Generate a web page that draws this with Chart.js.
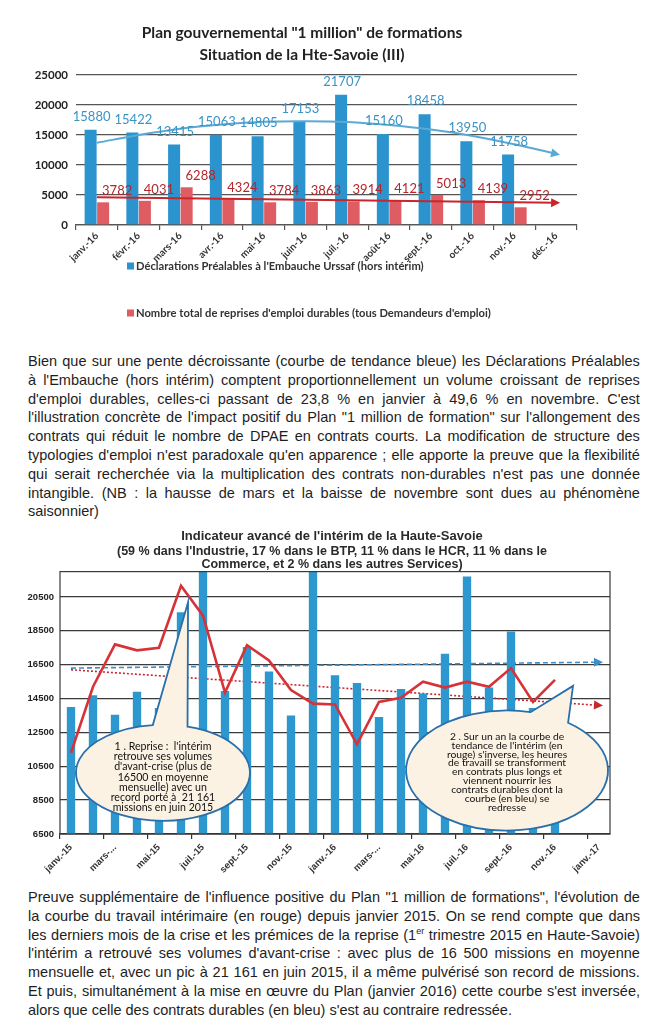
<!DOCTYPE html>
<html lang="fr">
<head>
<meta charset="utf-8">
<script src="https://cdn.jsdelivr.net/npm/chart.js@4.4.1/dist/chart.umd.min.js"></script>
<style>
  body { margin: 0; background: #fff; width: 668px; height: 1024px; position: relative; overflow: hidden;
         font-family: "Liberation Sans", Arial, sans-serif; color: #1e1e1e; }
  #box1 { position: absolute; left: 10px; top: 20px; width: 585px; height: 315px; }
  #box2 { position: absolute; left: 10px; top: 527px; width: 644px; height: 352px; }
  .para { position: absolute; left: 28px; width: 612px; font-size: 14.5px; line-height: 18.8px; }
  .para .line { display: flex; justify-content: space-between; white-space: nowrap; }
  .para .line.last { justify-content: flex-start; }
  .para sup { font-size: 9px; line-height: 0; }
</style>
</head>
<body>
<div id="box1"><canvas id="dpae"></canvas></div>
<div class="para" id="para1" style="top:352px"></div>
<div id="box2"><canvas id="interim"></canvas></div>
<div class="para" id="para2" style="top:888px"></div>

<script>
// ---- graphique 1 : DPAE / reprises d'emploi durables (2016)
const months2016 = ['janv.-16', 'févr.-16', 'mars-16', 'avr.-16', 'mai-16', 'juin-16',
                    'juil.-16', 'août-16', 'sept.-16', 'oct.-16', 'nov.-16', 'déc.-16'];
const dpaeValues = [15880, 15422, 13415, 15063, 14805, 17153, 21707, 15160, 18458, 13950, 11758, null];
const reprisesValues = [3782, 4031, 6288, 4324, 3784, 3863, 3914, 4121, 5013, 4139, 2952, null];
const dpaeTrend = [13700, 15000, 16050, 16750, 17200, 17300, 17150, 16650, 15900, 14850, 13450, 11850];
const reprisesTrend = [4620, null, null, null, null, null, null, null, null, null, null, 3700];

// ---- graphique 2 : indicateur avancé de l'intérim (janv. 2015 - janv. 2017)
const months1517 = ['janv.-15', 'févr.-15', 'mars-15', 'avr.-15', 'mai-15', 'juin-15', 'juil.-15', 'août-15',
                    'sept.-15', 'oct.-15', 'nov.-15', 'déc.-15', 'janv.-16', 'févr.-16', 'mars-16', 'avr.-16',
                    'mai-16', 'juin-16', 'juil.-16', 'août-16', 'sept.-16', 'oct.-16', 'nov.-16', 'déc.-16', 'janv.-17'];
const interimTickLabels = ['janv.-15', '', 'mars-...', '', 'mai-15', '', 'juil.-15', '', 'sept.-15', '', 'nov.-15', '',
                           'janv.-16', '', 'mars-...', '', 'mai-16', '', 'juil.-16', '', 'sept.-16', '', 'nov.-16', '', 'janv.-17'];
const interimYTicks = [6500, 8500, 10500, 12500, 14500, 16500, 18500, 20500];
const durablesValues = [14000, 14700, 13550, 14900, 13950, 19600, 22600, 14950, 17550, 16100, 13500, 22400,
                        15880, 15422, 13415, 15063, 14805, 17153, 21707, 15160, 18458, 13950, 11758, null, null];
const interimValues = [11300, 15200, 17700, 17350, 17500, 21161, 19400, 14850, 17650, 16750, 15000, 14200,
                       14150, 11800, 14300, 14550, 15500, 15150, 15500, 15200, 16300, 14300, 15600, null, null];
const durablesTrend = [16300, null, null, null, null, null, null, null, null, null, null, null,
                       null, null, null, null, null, null, null, null, null, null, null, null, 16650];
const interimTrend = [16200, null, null, null, null, null, null, null, null, null, null, null,
                      null, null, null, null, null, null, null, null, null, null, null, null, 14100];

const callouts = [
  { x: 4.18, y: 10120, rx: 87, ry: 48, tipX: 5.32, tipY: 20190, gap: [-96.7, -73.6],
    font: '10.6px Lato', lineHeight: 10.3, textTop: -26.5,
    lines: ["1 . Reprise :  l'intérim", 'retrouve ses volumes', "d'avant-crise (plus de", '16500 en moyenne',
            'mensuelle) avec un', 'record porté à  21 161', 'missions en juin 2015'] },
  { x: 19.82, y: 10250, rx: 101, ry: 60, tipX: 22.82, tipY: 15250, gap: [-76.5, -52.8],
    font: '10.3px Lato', lineHeight: 8.85, textTop: -34,
    lines: ['2 . Sur un an la courbe de', "tendance de l'intérim (en", "rouge) s'inverse, les heures",
            'de travaill se transforment', 'en contrats plus longs et', 'viennent nourrir les',
            'contrats durables dont la', 'courbe (en bleu) se', 'redresse'] }
];

const para1Lines = [
  'Bien que sur une pente décroissante (courbe de tendance bleue) les Déclarations Préalables',
  "à l'Embauche (hors intérim) comptent proportionnellement un volume croissant de reprises",
  "d'emploi durables, celles-ci passant de 23,8 % en janvier à 49,6 % en novembre. C'est",
  "l'illustration concrète de l'impact positif du Plan \"1 million de formation\" sur l'allongement des",
  'contrats qui réduit le nombre de DPAE en contrats courts. La modification de structure des',
  "typologies d'emploi  n'est paradoxale qu'en apparence ; elle apporte la preuve que la flexibilité",
  "qui serait recherchée via la multiplication des contrats non-durables n'est pas une donnée",
  'intangible. (NB : la hausse de mars et la baisse de novembre sont dues au phénomène',
  'saisonnier)'
];
const para2Lines = [
  "Preuve supplémentaire de l'influence positive du Plan \"1 million de formations\", l'évolution de",
  'la courbe du travail intérimaire (en rouge) depuis janvier 2015. On se rend compte que dans',
  'les derniers mois de la crise et les prémices de la reprise (1<sup>er</sup> trimestre 2015 en Haute-Savoie)',
  "l'intérim a retrouvé ses volumes d'avant-crise : avec plus de 16 500 missions en moyenne",
  'mensuelle et, avec un pic à 21 161 en juin 2015, il a même pulvérisé son record de missions.',
  "Et puis, simultanément à la mise en œuvre du Plan (janvier 2016) cette courbe s'est inversée,",
  "alors que celle des contrats durables (en bleu) s'est au contraire redressée."
];

function fillPara(el, lines) {
  lines.forEach((txt, i) => {
    const div = document.createElement('div');
    div.className = 'line' + (i === lines.length - 1 ? ' last' : '');
    if (i === lines.length - 1) div.innerHTML = txt;
    else div.innerHTML = txt.split(/\s+/).map(w => '<span>' + w + '</span>').join('');
    el.appendChild(div);
  });
}
fillPara(document.getElementById('para1'), para1Lines);
fillPara(document.getElementById('para2'), para2Lines);

Chart.defaults.font.family = 'Lato';
Chart.defaults.animation = false;
Chart.defaults.plugins.tooltip.enabled = false;
Chart.defaults.plugins.legend.display = false;

// pointe de flèche au bout des courbes de tendance
const arrowHeads = {
  id: 'arrowHeads',
  afterDatasetsDraw(chart) {
    const ctx = chart.ctx;
    chart.data.datasets.forEach((ds, i) => {
      if (!ds.arrow) return;
      const pts = chart.getDatasetMeta(i).data.filter((p, j) => ds.data[j] != null);
      const a = pts[pts.length - 2], b = pts[pts.length - 1];
      const ang = Math.atan2(b.y - a.y, b.x - a.x);
      const len = 9, half = 4.5;
      ctx.save();
      ctx.translate(b.x, b.y);
      ctx.rotate(ang);
      ctx.beginPath();
      ctx.moveTo(4, 0);
      ctx.lineTo(4 - len, -half);
      ctx.lineTo(4 - len, half);
      ctx.closePath();
      ctx.fillStyle = ds.borderColor;
      ctx.fill();
      ctx.restore();
    });
  }
};

// valeurs au-dessus des barres
const valueLabels = {
  id: 'valueLabels',
  afterDatasetsDraw(chart) {
    const ctx = chart.ctx;
    chart.data.datasets.forEach((ds, i) => {
      if (!ds.labelColor) return;
      chart.getDatasetMeta(i).data.forEach((bar, j) => {
        if (ds.data[j] == null) return;
        ctx.save();
        ctx.font = '13px Lato';
        ctx.fillStyle = ds.labelColor;
        ctx.textAlign = 'center';
        ctx.textBaseline = 'middle';
        ctx.fillText(String(ds.data[j]), bar.x + ds.labelShift, bar.y - ds.labelLift);
        ctx.restore();
      });
    });
  }
};

// légende en liste sous le graphique
const listLegend = {
  id: 'listLegend',
  afterDraw(chart) {
    const ctx = chart.ctx;
    const area = chart.chartArea;
    chart.data.datasets.forEach(ds => {
      if (ds.legendRow == null) return;
      const y = area.bottom + 41 + ds.legendRow * 47;
      ctx.save();
      ctx.fillStyle = ds.backgroundColor;
      ctx.fillRect(117, y - 3.5, 7, 7);
      ctx.font = 'bold 11.2px Lato';
      ctx.fillStyle = '#333';
      ctx.textBaseline = 'middle';
      ctx.fillText(ds.label, 126, y);
      ctx.restore();
    });
  }
};

// cadre + bulles de commentaire
const frameAndCallouts = {
  id: 'frameAndCallouts',
  afterDatasetsDraw(chart) {
    const ctx = chart.ctx;
    const a = chart.chartArea;
    const xs = chart.scales.x, ys = chart.scales.y;
    ctx.save();
    ctx.strokeStyle = '#3a3a3a';
    ctx.lineWidth = 1.2;
    ctx.strokeRect(a.left, a.top, a.right - a.left, a.bottom - a.top);
    callouts.forEach(c => {
      const cx = xs.getPixelForValue(c.x), cy = ys.getPixelForValue(c.y);
      const tx = xs.getPixelForValue(c.tipX), ty = ys.getPixelForValue(c.tipY);
      const g1 = c.gap[0] * Math.PI / 180, g2 = c.gap[1] * Math.PI / 180;
      ctx.beginPath();
      ctx.ellipse(cx, cy, c.rx, c.ry, 0, g2, g1 + 2 * Math.PI, false);
      ctx.lineTo(tx, ty);
      ctx.closePath();
      ctx.fillStyle = '#FCF2E4';
      ctx.fill();
      ctx.strokeStyle = '#2A6FAA';
      ctx.lineWidth = 1.8;
      ctx.stroke();
      ctx.fillStyle = '#111';
      ctx.font = c.font;
      ctx.textAlign = 'center';
      ctx.textBaseline = 'middle';
      c.lines.forEach((l, k) => ctx.fillText(l, cx, cy + c.textTop + k * c.lineHeight));
    });
    ctx.restore();
  }
};

new Chart(document.getElementById('dpae'), {
  type: 'bar',
  data: {
    labels: months2016,
    datasets: [
      { type: 'line', data: dpaeTrend, borderColor: '#5AA9D6', borderWidth: 2, pointRadius: 0,
        tension: 0.4, arrow: true, order: 0 },
      { type: 'line', data: reprisesTrend, borderColor: '#C8262C', borderWidth: 2, pointRadius: 0,
        spanGaps: true, arrow: true, order: 0 },
      { label: "Déclarations Préalables à l'Embauche Urssaf (hors intérim)", data: dpaeValues,
        backgroundColor: '#2B93CD', labelColor: '#3A93C4', labelShift: 1, labelLift: 13, legendRow: 0, order: 1 },
      { label: "Nombre total de reprises d'emploi durables (tous Demandeurs d'emploi)", data: reprisesValues,
        backgroundColor: '#E05C63', labelColor: '#B3262C', labelShift: 14, labelLift: 11.5, legendRow: 1, order: 1 }
    ]
  },
  options: {
    responsive: true,
    maintainAspectRatio: false,
    layout: { padding: { left: 17, right: 18, top: 0, bottom: 65 } },
    datasets: { bar: { categoryPercentage: 0.6, barPercentage: 0.96 } },
    plugins: {
      title: {
        display: true,
        text: ['Plan gouvernemental "1 million" de formations', 'Situation de la Hte-Savoie (III)'],
        color: '#222',
        font: { size: 15.5, weight: 'bold', lineHeight: 1.42 },
        padding: { top: 2, bottom: 9 }
      }
    },
    scales: {
      x: {
        offset: true,
        grid: { offset: true, drawOnChartArea: false, tickLength: 5, color: '#555', lineWidth: 1.2 },
        border: { color: '#555', width: 1.3 },
        ticks: { minRotation: 45, maxRotation: 45, autoSkip: false, color: '#333', padding: 0,
                 font: { size: 10, weight: 'bold' } },
        afterFit: s => { s.height = 45; }
      },
      y: {
        min: 0, max: 25000,
        ticks: { stepSize: 5000, color: '#222', padding: 8, font: { size: 11.5, weight: 'bold' },
                 callback: v => String(v) },
        grid: { color: '#555', lineWidth: 1.3, drawTicks: false },
        border: { display: false },
        afterFit: s => { s.width = 49; }
      }
    }
  },
  plugins: [arrowHeads, valueLabels, listLegend]
});

new Chart(document.getElementById('interim'), {
  type: 'bar',
  data: {
    labels: months1517,
    datasets: [
      { type: 'line', data: interimValues, borderColor: '#D63237', borderWidth: 2.6, pointRadius: 0, order: 0 },
      { type: 'bar', data: durablesValues, backgroundColor: '#2D97CF', barPercentage: 0.38,
        categoryPercentage: 1, order: 1 },
      { type: 'line', data: durablesTrend, borderColor: '#3D8FCB', borderWidth: 1.6, borderDash: [5, 3],
        spanGaps: true, arrow: true, pointRadius: 0, order: 2 },
      { type: 'line', data: interimTrend, borderColor: '#C9272D', borderWidth: 1.6, borderDash: [2, 2],
        spanGaps: true, arrow: true, pointRadius: 0, order: 2 }
    ]
  },
  options: {
    responsive: true,
    maintainAspectRatio: false,
    layout: { padding: { left: 0, right: 0, top: 0, bottom: 0 } },
    plugins: {
      title: {
        display: true,
        text: "Indicateur avancé de l'intérim de la Haute-Savoie",
        color: '#2a2a2a',
        font: { family: '"Liberation Sans", Arial', size: 13, weight: 'bold', lineHeight: 1.2 },
        padding: { top: 2, bottom: 0 }
      },
      subtitle: {
        display: true,
        text: ["(59 % dans l'Industrie, 17 % dans le BTP, 11 % dans le HCR, 11 % dans le",
               'Commerce, et 2 % dans les autres Services)'],
        color: '#2a2a2a',
        font: { family: '"Liberation Sans", Arial', size: 12.5, weight: 'bold', lineHeight: 1.08 },
        padding: { top: 0, bottom: 0 }
      }
    },
    scales: {
      x: {
        offset: true,
        grid: { offset: true, drawOnChartArea: false, tickLength: 5, lineWidth: 1.2,
                color: c => (c.index % 2 === 0 ? '#333' : 'rgba(0,0,0,0)') },
        border: { color: '#333', width: 1.2 },
        ticks: { minRotation: 45, maxRotation: 45, autoSkip: false, color: '#333',
                 font: { family: '"Liberation Sans", Arial', size: 9.5, weight: 'bold' },
                 callback: (v, i) => interimTickLabels[i] },
        afterFit: s => { s.height = 45; }
      },
      y: {
        min: 6500, max: 22000,
        afterBuildTicks: s => { s.ticks = interimYTicks.map(v => ({ value: v })); },
        ticks: { color: '#222', padding: 6, callback: v => String(v),
                 font: { family: '"Liberation Sans", Arial', size: 9.5, weight: 'bold' } },
        grid: { color: '#3a3a3a', lineWidth: 1.3, drawTicks: false },
        border: { display: false },
        afterFit: s => { s.width = 50; }
      },
      // marge droite vide, pour centrer le titre comme sur l'original
      yRight: {
        position: 'right',
        ticks: { display: false },
        grid: { display: false },
        border: { display: false },
        afterFit: s => { s.width = 44; }
      }
    }
  },
  plugins: [arrowHeads, frameAndCallouts]
});
</script>
</body>
</html>
